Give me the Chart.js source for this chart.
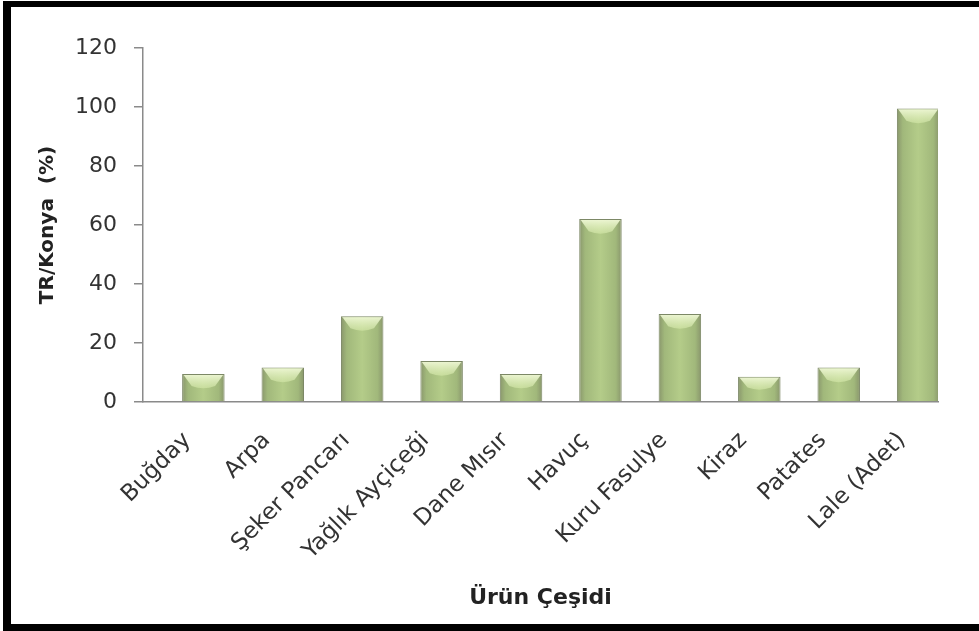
<!DOCTYPE html>
<html>
<head>
<meta charset="utf-8">
<script src="https://cdn.jsdelivr.net/npm/chart.js@4"></script>
<style>
  html, body { margin: 0; padding: 0; background: #fff; }
  #frame {
    position: absolute; left: 3px; top: 1px;
    width: 976px; height: 630px; box-sizing: border-box;
    border-left: 8px solid #000; border-top: 6px solid #000; border-bottom: 7px solid #000;
    background: #fff;
  }
  #chart { display: block; }
</style>
</head>
<body>
<div id="frame"><canvas id="chart" width="968" height="617"></canvas></div>
<script>
// urun cesitleri ve TR/Konya oranlari (%)
const categories = ['Buğday', 'Arpa', 'Şeker Pancarı', 'Yağlık Ayçiçeği', 'Dane Mısır', 'Havuç', 'Kuru Fasulye', 'Kiraz', 'Patates', 'Lale (Adet)'];
const shares = [9.5, 11.7, 29.1, 13.9, 9.5, 62, 29.8, 8.6, 11.7, 99.5];
const yTicks = [0, 20, 40, 60, 80, 100, 120];

const BAR_PCT = 0.535;

// horizontal shading across each column
function barFill(ctx) {
    const chart = ctx.chart;
    const xs = chart.scales.x;
    if (!chart.chartArea || !xs) return '#a9c27f';
    const cx = xs.getPixelForValue(ctx.dataIndex);
    const half = (xs.getPixelForValue(1) - xs.getPixelForValue(0)) * BAR_PCT / 2;
    const g = chart.ctx.createLinearGradient(cx - half, 0, cx + half, 0);
    g.addColorStop(0, '#89966c');
    g.addColorStop(0.14, '#a1b87b');
    g.addColorStop(0.5, '#b4cc89');
    g.addColorStop(0.86, '#a1b87b');
    g.addColorStop(1, '#89966c');
    return g;
}

// light bevel on the top of each column
const bevel = {
    id: 'bevel',
    afterDatasetsDraw(chart) {
        const c = chart.ctx;
        chart.getDatasetMeta(0).data.forEach(bar => {
            const l = bar.x - bar.width / 2 + 1.5, r = bar.x + bar.width / 2 - 1.5;
            const t = bar.y + 1, d = Math.min(14, (bar.base - bar.y) / 2);
            const g = c.createLinearGradient(0, t, 0, t + d);
            g.addColorStop(0, 'rgba(238,247,212,0.95)');
            g.addColorStop(1, 'rgba(212,232,168,0.6)');
            c.save();
            c.beginPath();
            c.moveTo(l, t);
            c.lineTo(r, t);
            c.lineTo(r - 8, t + d * 0.8);
            c.quadraticCurveTo(bar.x, t + d * 1.15, l + 8, t + d * 0.8);
            c.closePath();
            c.fillStyle = g;
            c.fill();
            c.restore();
        });
    }
};

new Chart(document.getElementById('chart'), {
    type: 'bar',
    data: {
        datasets: [{
            data: shares.map((v, i) => ({ x: i, y: v })),
            backgroundColor: barFill,
            borderColor: '#7c8866',
            borderWidth: 1,
            barPercentage: BAR_PCT,
            categoryPercentage: 1
        }]
    },
    plugins: [bevel],
    options: {
        responsive: false,
        animation: false,
        layout: { padding: { top: 41, right: 41, left: 0, bottom: 0 } },
        plugins: { legend: { display: false }, tooltip: { enabled: false } },
        scales: {
            x: {
                type: 'linear',
                offset: false,
                min: -0.76,
                max: 9.25,
                afterBuildTicks: s => { s.ticks = categories.map((c, i) => ({ value: i })); },
                afterFit: s => { s.height = 222; },
                grid: { display: false, drawTicks: true, tickLength: 0 },
                border: { display: true, color: '#8a8a8a', width: 1.5 },
                ticks: {
                    autoSkip: false,
                    minRotation: 45,
                    maxRotation: 45,
                    padding: 25,
                    labelOffset: -16,
                    color: '#333',
                    font: { family: 'DejaVu Sans', size: 23 },
                    callback: v => categories[v]
                },
                title: {
                    display: true,
                    text: 'Ürün Çeşidi',
                    color: '#222',
                    font: { family: 'DejaVu Sans', size: 22, weight: 'bold' },
                    padding: { top: 0, bottom: 13 }
                }
            },
            y: {
                min: 0,
                max: 120,
                afterBuildTicks: s => { s.ticks = yTicks.map(v => ({ value: v })); },
                afterFit: s => { s.width = 132; },
                grid: { drawOnChartArea: false, tickLength: 9, color: '#8a8a8a', lineWidth: 1.5 },
                border: { display: true, color: '#8a8a8a', width: 1.5 },
                ticks: {
                    padding: 17,
                    color: '#333',
                    font: { family: 'DejaVu Sans', size: 22 }
                },
                title: {
                    display: true,
                    text: 'TR/Konya  (%)',
                    color: '#222',
                    font: { family: 'DejaVu Sans', size: 20, weight: 'bold' },
                    padding: { top: 25, bottom: 0 }
                }
            }
        }
    }
});
</script>
</body>
</html>
